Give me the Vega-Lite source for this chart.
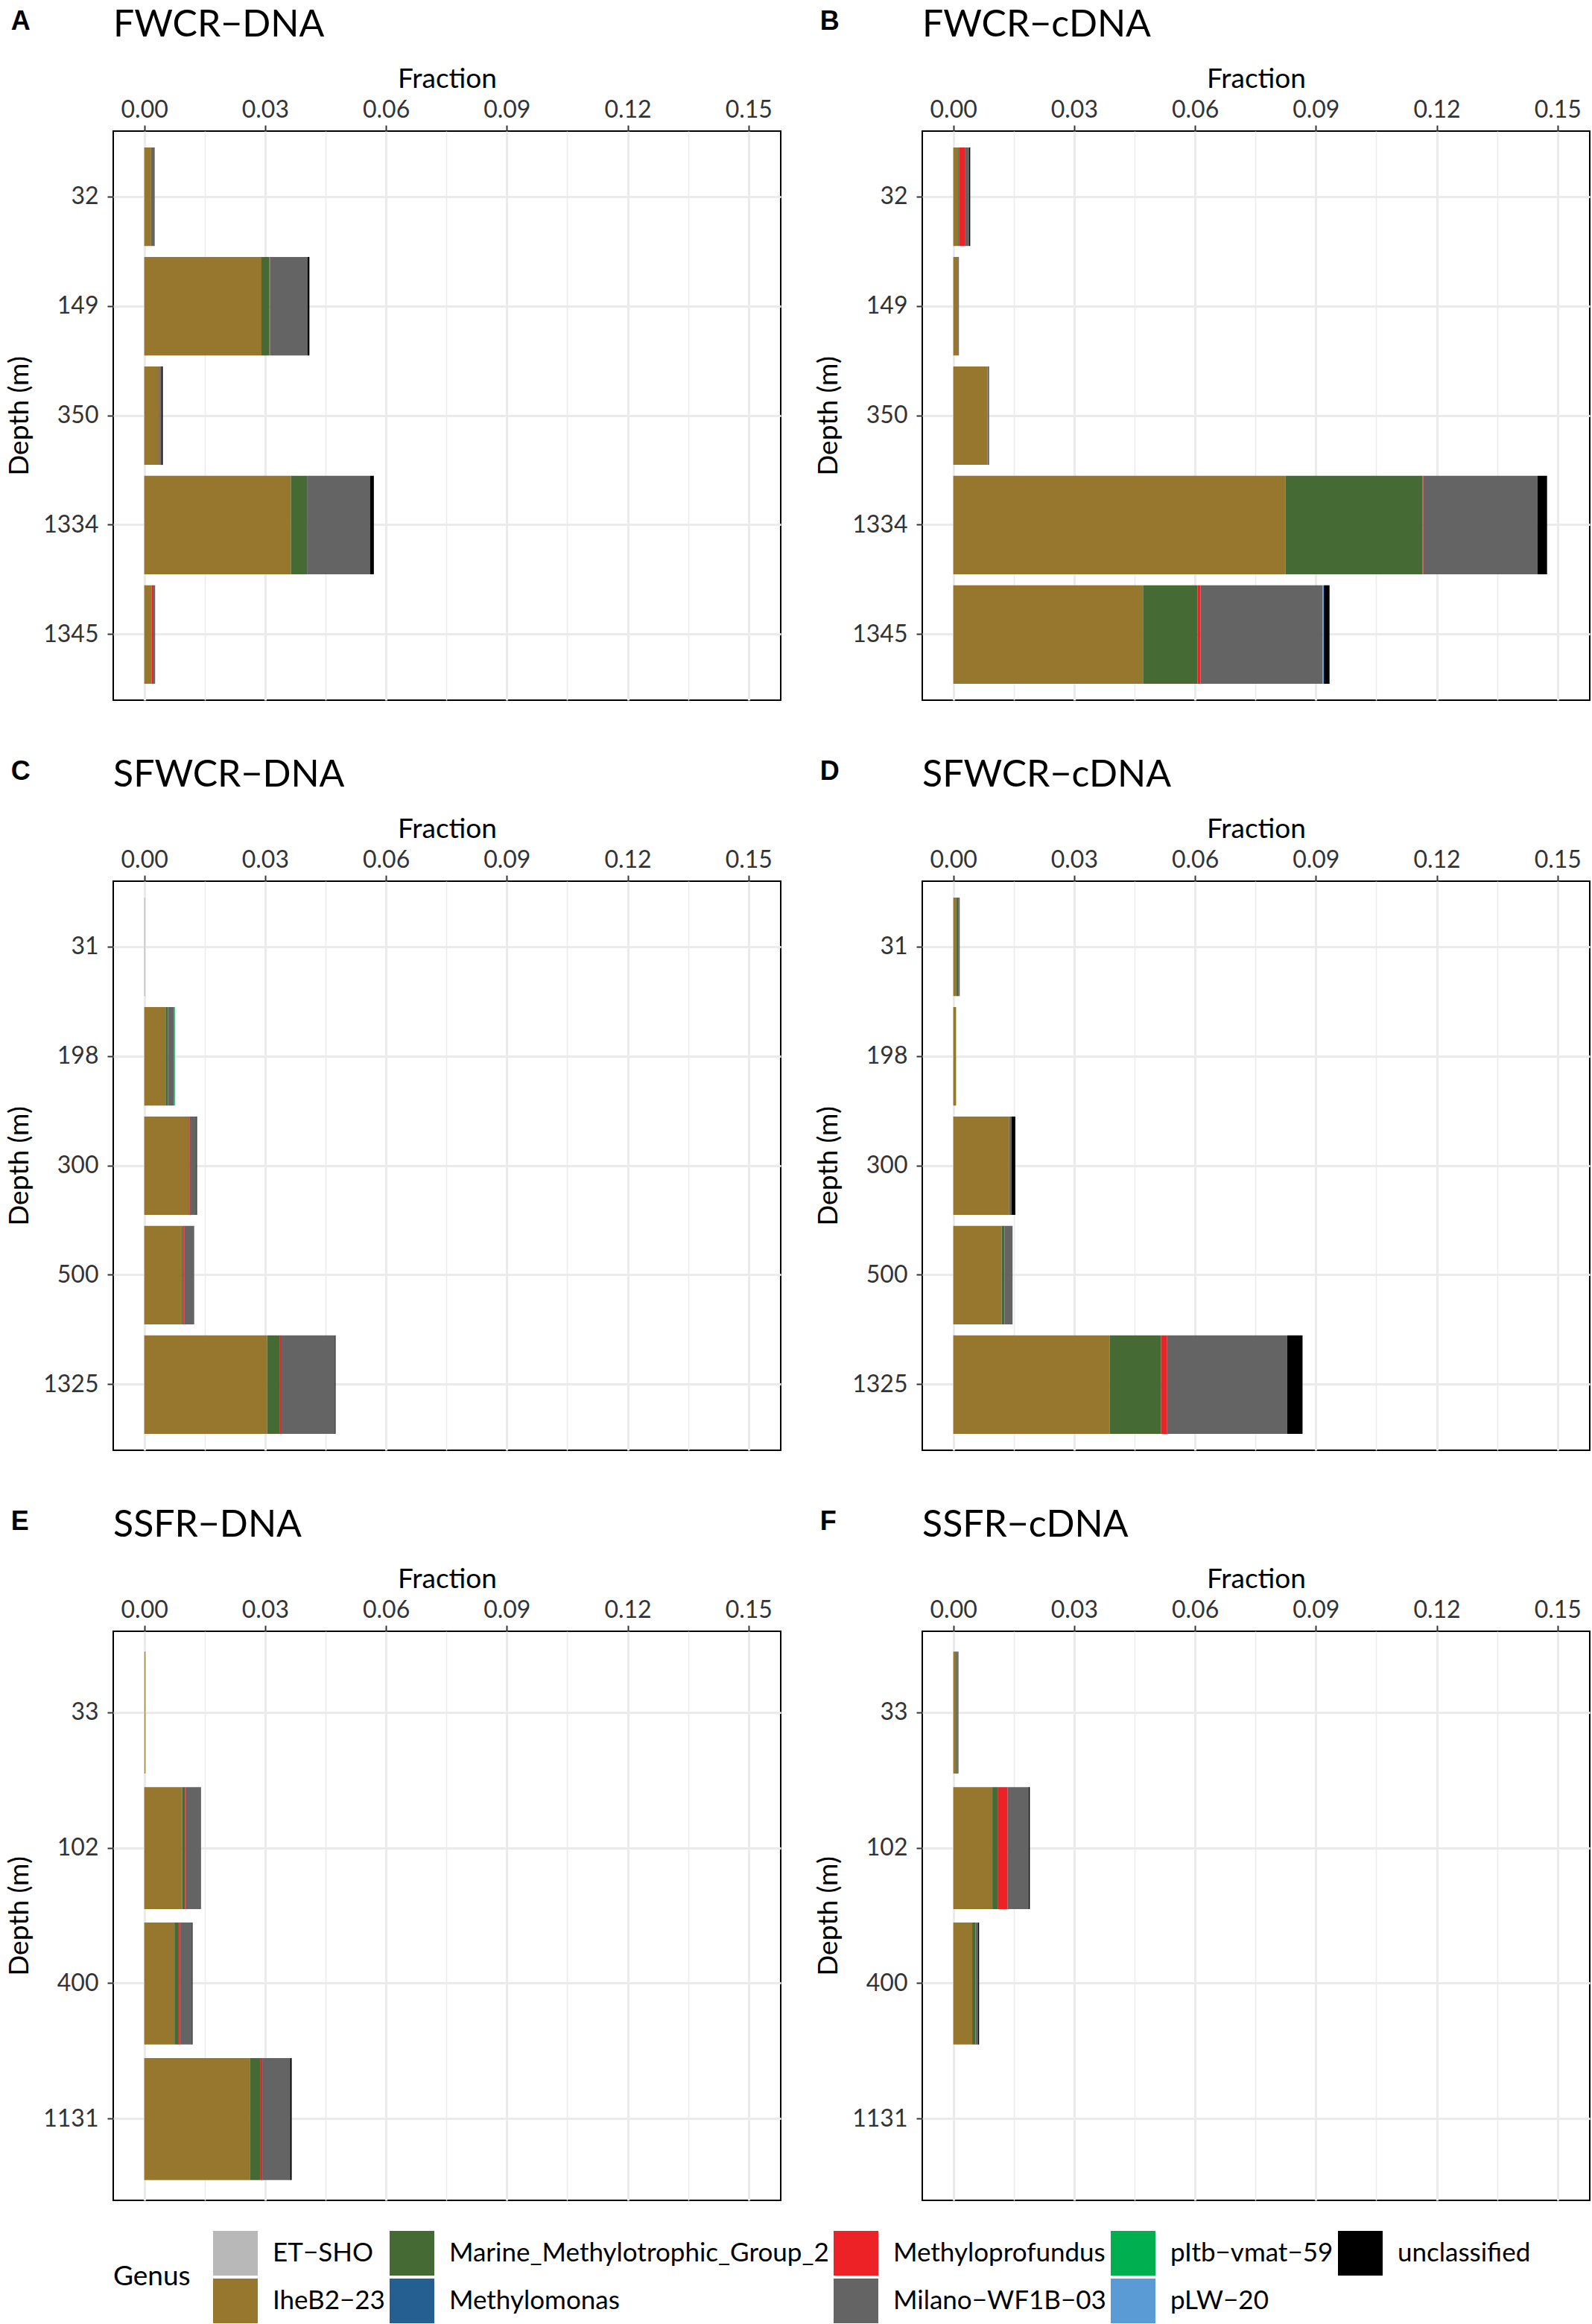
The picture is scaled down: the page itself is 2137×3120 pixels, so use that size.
{
  "$schema": "https://vega.github.io/schema/vega-lite/v6.json",
  "padding": {"left": 6, "top": 8, "right": 5, "bottom": 2},
  "background": "white",
  "datasets": {
    "d": [
      {"Panel": "FWCR−DNA", "Depth": 32, "Genus": "IheB2−23", "Fraction": 0.0017},
      {"Panel": "FWCR−DNA", "Depth": 32, "Genus": "Marine_Methylotrophic_Group_2", "Fraction": 0.0002},
      {"Panel": "FWCR−DNA", "Depth": 32, "Genus": "Milano−WF1B−03", "Fraction": 0.0007},
      {"Panel": "FWCR−DNA", "Depth": 149, "Genus": "IheB2−23", "Fraction": 0.0291},
      {"Panel": "FWCR−DNA", "Depth": 149, "Genus": "Marine_Methylotrophic_Group_2", "Fraction": 0.0019},
      {"Panel": "FWCR−DNA", "Depth": 149, "Genus": "Methyloprofundus", "Fraction": 0.0002},
      {"Panel": "FWCR−DNA", "Depth": 149, "Genus": "Milano−WF1B−03", "Fraction": 0.0093},
      {"Panel": "FWCR−DNA", "Depth": 149, "Genus": "unclassified", "Fraction": 0.0005},
      {"Panel": "FWCR−DNA", "Depth": 350, "Genus": "IheB2−23", "Fraction": 0.0036},
      {"Panel": "FWCR−DNA", "Depth": 350, "Genus": "Methyloprofundus", "Fraction": 0.0002},
      {"Panel": "FWCR−DNA", "Depth": 350, "Genus": "Milano−WF1B−03", "Fraction": 0.0005},
      {"Panel": "FWCR−DNA", "Depth": 350, "Genus": "unclassified", "Fraction": 0.0003},
      {"Panel": "FWCR−DNA", "Depth": 1334, "Genus": "IheB2−23", "Fraction": 0.0364},
      {"Panel": "FWCR−DNA", "Depth": 1334, "Genus": "Marine_Methylotrophic_Group_2", "Fraction": 0.0040},
      {"Panel": "FWCR−DNA", "Depth": 1334, "Genus": "Milano−WF1B−03", "Fraction": 0.0157},
      {"Panel": "FWCR−DNA", "Depth": 1334, "Genus": "unclassified", "Fraction": 0.0009},
      {"Panel": "FWCR−DNA", "Depth": 1345, "Genus": "IheB2−23", "Fraction": 0.0018},
      {"Panel": "FWCR−DNA", "Depth": 1345, "Genus": "Methyloprofundus", "Fraction": 0.0005},
      {"Panel": "FWCR−DNA", "Depth": 1345, "Genus": "Milano−WF1B−03", "Fraction": 0.0004},

      {"Panel": "FWCR−cDNA", "Depth": 32, "Genus": "IheB2−23", "Fraction": 0.0012},
      {"Panel": "FWCR−cDNA", "Depth": 32, "Genus": "Marine_Methylotrophic_Group_2", "Fraction": 0.0003},
      {"Panel": "FWCR−cDNA", "Depth": 32, "Genus": "Methyloprofundus", "Fraction": 0.0015},
      {"Panel": "FWCR−cDNA", "Depth": 32, "Genus": "Milano−WF1B−03", "Fraction": 0.0009},
      {"Panel": "FWCR−cDNA", "Depth": 32, "Genus": "unclassified", "Fraction": 0.0003},
      {"Panel": "FWCR−cDNA", "Depth": 149, "Genus": "IheB2−23", "Fraction": 0.0012},
      {"Panel": "FWCR−cDNA", "Depth": 149, "Genus": "Milano−WF1B−03", "Fraction": 0.0002},
      {"Panel": "FWCR−cDNA", "Depth": 350, "Genus": "IheB2−23", "Fraction": 0.0085},
      {"Panel": "FWCR−cDNA", "Depth": 350, "Genus": "Milano−WF1B−03", "Fraction": 0.0004},
      {"Panel": "FWCR−cDNA", "Depth": 1334, "Genus": "IheB2−23", "Fraction": 0.0825},
      {"Panel": "FWCR−cDNA", "Depth": 1334, "Genus": "Marine_Methylotrophic_Group_2", "Fraction": 0.0340},
      {"Panel": "FWCR−cDNA", "Depth": 1334, "Genus": "Methyloprofundus", "Fraction": 0.0002},
      {"Panel": "FWCR−cDNA", "Depth": 1334, "Genus": "Milano−WF1B−03", "Fraction": 0.0283},
      {"Panel": "FWCR−cDNA", "Depth": 1334, "Genus": "unclassified", "Fraction": 0.0024},
      {"Panel": "FWCR−cDNA", "Depth": 1345, "Genus": "IheB2−23", "Fraction": 0.0471},
      {"Panel": "FWCR−cDNA", "Depth": 1345, "Genus": "Marine_Methylotrophic_Group_2", "Fraction": 0.0135},
      {"Panel": "FWCR−cDNA", "Depth": 1345, "Genus": "Methyloprofundus", "Fraction": 0.0008},
      {"Panel": "FWCR−cDNA", "Depth": 1345, "Genus": "Milano−WF1B−03", "Fraction": 0.0303},
      {"Panel": "FWCR−cDNA", "Depth": 1345, "Genus": "pLW−20", "Fraction": 0.0003},
      {"Panel": "FWCR−cDNA", "Depth": 1345, "Genus": "unclassified", "Fraction": 0.0014},

      {"Panel": "SFWCR−DNA", "Depth": 31, "Genus": "ET−SHO", "Fraction": 0.0002},
      {"Panel": "SFWCR−DNA", "Depth": 198, "Genus": "IheB2−23", "Fraction": 0.0053},
      {"Panel": "SFWCR−DNA", "Depth": 198, "Genus": "Marine_Methylotrophic_Group_2", "Fraction": 0.0006},
      {"Panel": "SFWCR−DNA", "Depth": 198, "Genus": "pItb−vmat−59", "Fraction": 0.0002},
      {"Panel": "SFWCR−DNA", "Depth": 198, "Genus": "Milano−WF1B−03", "Fraction": 0.0015},
      {"Panel": "SFWCR−DNA", "Depth": 300, "Genus": "IheB2−23", "Fraction": 0.0110},
      {"Panel": "SFWCR−DNA", "Depth": 300, "Genus": "Methyloprofundus", "Fraction": 0.0003},
      {"Panel": "SFWCR−DNA", "Depth": 300, "Genus": "Milano−WF1B−03", "Fraction": 0.0016},
      {"Panel": "SFWCR−DNA", "Depth": 300, "Genus": "unclassified", "Fraction": 0.0002},
      {"Panel": "SFWCR−DNA", "Depth": 500, "Genus": "IheB2−23", "Fraction": 0.0092},
      {"Panel": "SFWCR−DNA", "Depth": 500, "Genus": "Marine_Methylotrophic_Group_2", "Fraction": 0.0004},
      {"Panel": "SFWCR−DNA", "Depth": 500, "Genus": "Methyloprofundus", "Fraction": 0.0003},
      {"Panel": "SFWCR−DNA", "Depth": 500, "Genus": "Milano−WF1B−03", "Fraction": 0.0025},
      {"Panel": "SFWCR−DNA", "Depth": 1325, "Genus": "IheB2−23", "Fraction": 0.0305},
      {"Panel": "SFWCR−DNA", "Depth": 1325, "Genus": "Marine_Methylotrophic_Group_2", "Fraction": 0.0032},
      {"Panel": "SFWCR−DNA", "Depth": 1325, "Genus": "Methyloprofundus", "Fraction": 0.0004},
      {"Panel": "SFWCR−DNA", "Depth": 1325, "Genus": "Milano−WF1B−03", "Fraction": 0.0132},
      {"Panel": "SFWCR−DNA", "Depth": 1325, "Genus": "unclassified", "Fraction": 0.0002},

      {"Panel": "SFWCR−cDNA", "Depth": 31, "Genus": "IheB2−23", "Fraction": 0.0007},
      {"Panel": "SFWCR−cDNA", "Depth": 31, "Genus": "Marine_Methylotrophic_Group_2", "Fraction": 0.0005},
      {"Panel": "SFWCR−cDNA", "Depth": 31, "Genus": "Milano−WF1B−03", "Fraction": 0.0004},
      {"Panel": "SFWCR−cDNA", "Depth": 198, "Genus": "IheB2−23", "Fraction": 0.0007},
      {"Panel": "SFWCR−cDNA", "Depth": 300, "Genus": "IheB2−23", "Fraction": 0.0139},
      {"Panel": "SFWCR−cDNA", "Depth": 300, "Genus": "Milano−WF1B−03", "Fraction": 0.0006},
      {"Panel": "SFWCR−cDNA", "Depth": 300, "Genus": "unclassified", "Fraction": 0.0009},
      {"Panel": "SFWCR−cDNA", "Depth": 500, "Genus": "IheB2−23", "Fraction": 0.0120},
      {"Panel": "SFWCR−cDNA", "Depth": 500, "Genus": "Marine_Methylotrophic_Group_2", "Fraction": 0.0007},
      {"Panel": "SFWCR−cDNA", "Depth": 500, "Genus": "Milano−WF1B−03", "Fraction": 0.0019},
      {"Panel": "SFWCR−cDNA", "Depth": 500, "Genus": "unclassified", "Fraction": 0.0001},
      {"Panel": "SFWCR−cDNA", "Depth": 1325, "Genus": "IheB2−23", "Fraction": 0.0388},
      {"Panel": "SFWCR−cDNA", "Depth": 1325, "Genus": "Marine_Methylotrophic_Group_2", "Fraction": 0.0128},
      {"Panel": "SFWCR−cDNA", "Depth": 1325, "Genus": "Methyloprofundus", "Fraction": 0.0015},
      {"Panel": "SFWCR−cDNA", "Depth": 1325, "Genus": "Milano−WF1B−03", "Fraction": 0.0298},
      {"Panel": "SFWCR−cDNA", "Depth": 1325, "Genus": "unclassified", "Fraction": 0.0038},

      {"Panel": "SSFR−DNA", "Depth": 33, "Genus": "ET−SHO", "Fraction": 0.0001},
      {"Panel": "SSFR−DNA", "Depth": 33, "Genus": "IheB2−23", "Fraction": 0.0002},
      {"Panel": "SSFR−DNA", "Depth": 102, "Genus": "IheB2−23", "Fraction": 0.0094},
      {"Panel": "SSFR−DNA", "Depth": 102, "Genus": "Marine_Methylotrophic_Group_2", "Fraction": 0.0007},
      {"Panel": "SSFR−DNA", "Depth": 102, "Genus": "Methyloprofundus", "Fraction": 0.0003},
      {"Panel": "SSFR−DNA", "Depth": 102, "Genus": "Milano−WF1B−03", "Fraction": 0.0037},
      {"Panel": "SSFR−DNA", "Depth": 400, "Genus": "IheB2−23", "Fraction": 0.0075},
      {"Panel": "SSFR−DNA", "Depth": 400, "Genus": "Marine_Methylotrophic_Group_2", "Fraction": 0.0009},
      {"Panel": "SSFR−DNA", "Depth": 400, "Genus": "Methyloprofundus", "Fraction": 0.0004},
      {"Panel": "SSFR−DNA", "Depth": 400, "Genus": "Milano−WF1B−03", "Fraction": 0.0030},
      {"Panel": "SSFR−DNA", "Depth": 400, "Genus": "unclassified", "Fraction": 0.0002},
      {"Panel": "SSFR−DNA", "Depth": 1131, "Genus": "IheB2−23", "Fraction": 0.0263},
      {"Panel": "SSFR−DNA", "Depth": 1131, "Genus": "Marine_Methylotrophic_Group_2", "Fraction": 0.0026},
      {"Panel": "SSFR−DNA", "Depth": 1131, "Genus": "Methyloprofundus", "Fraction": 0.0004},
      {"Panel": "SSFR−DNA", "Depth": 1131, "Genus": "Milano−WF1B−03", "Fraction": 0.0069},
      {"Panel": "SSFR−DNA", "Depth": 1131, "Genus": "unclassified", "Fraction": 0.0004},

      {"Panel": "SSFR−cDNA", "Depth": 33, "Genus": "IheB2−23", "Fraction": 0.0006},
      {"Panel": "SSFR−cDNA", "Depth": 33, "Genus": "Marine_Methylotrophic_Group_2", "Fraction": 0.0003},
      {"Panel": "SSFR−cDNA", "Depth": 33, "Genus": "Milano−WF1B−03", "Fraction": 0.0004},
      {"Panel": "SSFR−cDNA", "Depth": 102, "Genus": "IheB2−23", "Fraction": 0.0097},
      {"Panel": "SSFR−cDNA", "Depth": 102, "Genus": "Marine_Methylotrophic_Group_2", "Fraction": 0.0013},
      {"Panel": "SSFR−cDNA", "Depth": 102, "Genus": "Methyloprofundus", "Fraction": 0.0025},
      {"Panel": "SSFR−cDNA", "Depth": 102, "Genus": "Milano−WF1B−03", "Fraction": 0.0052},
      {"Panel": "SSFR−cDNA", "Depth": 102, "Genus": "unclassified", "Fraction": 0.0003},
      {"Panel": "SSFR−cDNA", "Depth": 400, "Genus": "IheB2−23", "Fraction": 0.0047},
      {"Panel": "SSFR−cDNA", "Depth": 400, "Genus": "Marine_Methylotrophic_Group_2", "Fraction": 0.0008},
      {"Panel": "SSFR−cDNA", "Depth": 400, "Genus": "Milano−WF1B−03", "Fraction": 0.0006},
      {"Panel": "SSFR−cDNA", "Depth": 400, "Genus": "unclassified", "Fraction": 0.0003},
      {"Panel": "SSFR−cDNA", "Depth": 1131, "Genus": "IheB2−23", "Fraction": 0}
    ]
  },
  "data": {"name": "d"},
  "spacing": 74,
  "vconcat": [
    {"hconcat": [
      {"title": {"text": "A", "anchor": "start", "frame": "bounds", "font": "Liberation Sans", "fontSize": 36, "fontWeight": "bold", "color": "black", "offset": 0, "dy": 40, "dx": 8},
       "vconcat": [{
        "width": 896, "height": 764,
        "title": {"text": "FWCR−DNA", "anchor": "start", "frame": "group", "font": "Lato", "fontSize": 50, "fontWeight": "normal", "color": "black", "offset": 28},
        "transform": [{"filter": "datum.Panel == 'FWCR−DNA'"}],
        "mark": {"type": "bar"},
        "encoding": {
          "y": {"field": "Depth", "type": "ordinal", "scale": {"paddingInner": 0.1, "paddingOuter": 0.15}, "axis": {"title": "Depth (m)"}},
          "x": {"field": "Fraction", "type": "quantitative", "stack": "zero", "scale": {"domain": [-0.0077, 0.158], "nice": false, "zero": false},
                "axis": {"orient": "top", "title": "Fraction", "values": [0, 0.015, 0.03, 0.045, 0.06, 0.075, 0.09, 0.105, 0.12, 0.135, 0.15], "labelOverlap": false, "labelExpr": "round(datum.value*1000) % 30 == 0 ? format(datum.value, '.2f') : ''", "gridWidth": {"condition": {"test": "round(datum.value*1000) % 30 == 0", "value": 3}, "value": 1.5}, "tickOpacity": {"condition": {"test": "round(datum.value*1000) % 30 == 0", "value": 1}, "value": 0}}},
          "color": {"field": "Genus", "type": "nominal", "title": "Genus",
                    "scale": {"domain": ["ET−SHO", "Marine_Methylotrophic_Group_2", "Methyloprofundus", "pItb−vmat−59", "unclassified", "IheB2−23", "Methylomonas", "Milano−WF1B−03", "pLW−20"],
                              "range": ["#b8b8b8", "#466a33", "#ec2227", "#00b050", "#000000", "#97762d", "#255f91", "#646464", "#5b9bd5"]}},
          "order": {"field": "Genus", "sort": "ascending"}
        }
      }]},
      {"title": {"text": "B", "anchor": "start", "frame": "bounds", "font": "Liberation Sans", "fontSize": 36, "fontWeight": "bold", "color": "black", "offset": 0, "dy": 40, "dx": 8},
       "vconcat": [{
        "width": 896, "height": 764,
        "title": {"text": "FWCR−cDNA", "anchor": "start", "frame": "group", "font": "Lato", "fontSize": 50, "fontWeight": "normal", "color": "black", "offset": 28},
        "transform": [{"filter": "datum.Panel == 'FWCR−cDNA'"}],
        "mark": {"type": "bar"},
        "encoding": {
          "y": {"field": "Depth", "type": "ordinal", "scale": {"paddingInner": 0.1, "paddingOuter": 0.15}, "axis": {"title": "Depth (m)"}},
          "x": {"field": "Fraction", "type": "quantitative", "stack": "zero", "scale": {"domain": [-0.0077, 0.158], "nice": false, "zero": false},
                "axis": {"orient": "top", "title": "Fraction", "values": [0, 0.015, 0.03, 0.045, 0.06, 0.075, 0.09, 0.105, 0.12, 0.135, 0.15], "labelOverlap": false, "labelExpr": "round(datum.value*1000) % 30 == 0 ? format(datum.value, '.2f') : ''", "gridWidth": {"condition": {"test": "round(datum.value*1000) % 30 == 0", "value": 3}, "value": 1.5}, "tickOpacity": {"condition": {"test": "round(datum.value*1000) % 30 == 0", "value": 1}, "value": 0}}},
          "color": {"field": "Genus", "type": "nominal", "title": "Genus"},
          "order": {"field": "Genus", "sort": "ascending"}
        }
      }]}
    ]},
    {"hconcat": [
      {"title": {"text": "C", "anchor": "start", "frame": "bounds", "font": "Liberation Sans", "fontSize": 36, "fontWeight": "bold", "color": "black", "offset": 0, "dy": 40, "dx": 8},
       "vconcat": [{
        "width": 896, "height": 764,
        "title": {"text": "SFWCR−DNA", "anchor": "start", "frame": "group", "font": "Lato", "fontSize": 50, "fontWeight": "normal", "color": "black", "offset": 28},
        "transform": [{"filter": "datum.Panel == 'SFWCR−DNA'"}],
        "mark": {"type": "bar"},
        "encoding": {
          "y": {"field": "Depth", "type": "ordinal", "scale": {"paddingInner": 0.1, "paddingOuter": 0.15}, "axis": {"title": "Depth (m)"}},
          "x": {"field": "Fraction", "type": "quantitative", "stack": "zero", "scale": {"domain": [-0.0077, 0.158], "nice": false, "zero": false},
                "axis": {"orient": "top", "title": "Fraction", "values": [0, 0.015, 0.03, 0.045, 0.06, 0.075, 0.09, 0.105, 0.12, 0.135, 0.15], "labelOverlap": false, "labelExpr": "round(datum.value*1000) % 30 == 0 ? format(datum.value, '.2f') : ''", "gridWidth": {"condition": {"test": "round(datum.value*1000) % 30 == 0", "value": 3}, "value": 1.5}, "tickOpacity": {"condition": {"test": "round(datum.value*1000) % 30 == 0", "value": 1}, "value": 0}}},
          "color": {"field": "Genus", "type": "nominal", "title": "Genus"},
          "order": {"field": "Genus", "sort": "ascending"}
        }
      }]},
      {"title": {"text": "D", "anchor": "start", "frame": "bounds", "font": "Liberation Sans", "fontSize": 36, "fontWeight": "bold", "color": "black", "offset": 0, "dy": 40, "dx": 8},
       "vconcat": [{
        "width": 896, "height": 764,
        "title": {"text": "SFWCR−cDNA", "anchor": "start", "frame": "group", "font": "Lato", "fontSize": 50, "fontWeight": "normal", "color": "black", "offset": 28},
        "transform": [{"filter": "datum.Panel == 'SFWCR−cDNA'"}],
        "mark": {"type": "bar"},
        "encoding": {
          "y": {"field": "Depth", "type": "ordinal", "scale": {"paddingInner": 0.1, "paddingOuter": 0.15}, "axis": {"title": "Depth (m)"}},
          "x": {"field": "Fraction", "type": "quantitative", "stack": "zero", "scale": {"domain": [-0.0077, 0.158], "nice": false, "zero": false},
                "axis": {"orient": "top", "title": "Fraction", "values": [0, 0.015, 0.03, 0.045, 0.06, 0.075, 0.09, 0.105, 0.12, 0.135, 0.15], "labelOverlap": false, "labelExpr": "round(datum.value*1000) % 30 == 0 ? format(datum.value, '.2f') : ''", "gridWidth": {"condition": {"test": "round(datum.value*1000) % 30 == 0", "value": 3}, "value": 1.5}, "tickOpacity": {"condition": {"test": "round(datum.value*1000) % 30 == 0", "value": 1}, "value": 0}}},
          "color": {"field": "Genus", "type": "nominal", "title": "Genus"},
          "order": {"field": "Genus", "sort": "ascending"}
        }
      }]}
    ]},
    {"hconcat": [
      {"title": {"text": "E", "anchor": "start", "frame": "bounds", "font": "Liberation Sans", "fontSize": 36, "fontWeight": "bold", "color": "black", "offset": 0, "dy": 40, "dx": 8},
       "vconcat": [{
        "width": 896, "height": 764,
        "title": {"text": "SSFR−DNA", "anchor": "start", "frame": "group", "font": "Lato", "fontSize": 50, "fontWeight": "normal", "color": "black", "offset": 28},
        "transform": [{"filter": "datum.Panel == 'SSFR−DNA'"}],
        "mark": {"type": "bar"},
        "encoding": {
          "y": {"field": "Depth", "type": "ordinal", "scale": {"paddingInner": 0.1, "paddingOuter": 0.15}, "axis": {"title": "Depth (m)"}},
          "x": {"field": "Fraction", "type": "quantitative", "stack": "zero", "scale": {"domain": [-0.0077, 0.158], "nice": false, "zero": false},
                "axis": {"orient": "top", "title": "Fraction", "values": [0, 0.015, 0.03, 0.045, 0.06, 0.075, 0.09, 0.105, 0.12, 0.135, 0.15], "labelOverlap": false, "labelExpr": "round(datum.value*1000) % 30 == 0 ? format(datum.value, '.2f') : ''", "gridWidth": {"condition": {"test": "round(datum.value*1000) % 30 == 0", "value": 3}, "value": 1.5}, "tickOpacity": {"condition": {"test": "round(datum.value*1000) % 30 == 0", "value": 1}, "value": 0}}},
          "color": {"field": "Genus", "type": "nominal", "title": "Genus"},
          "order": {"field": "Genus", "sort": "ascending"}
        }
      }]},
      {"title": {"text": "F", "anchor": "start", "frame": "bounds", "font": "Liberation Sans", "fontSize": 36, "fontWeight": "bold", "color": "black", "offset": 0, "dy": 40, "dx": 8},
       "vconcat": [{
        "width": 896, "height": 764,
        "title": {"text": "SSFR−cDNA", "anchor": "start", "frame": "group", "font": "Lato", "fontSize": 50, "fontWeight": "normal", "color": "black", "offset": 28},
        "transform": [{"filter": "datum.Panel == 'SSFR−cDNA'"}],
        "mark": {"type": "bar"},
        "encoding": {
          "y": {"field": "Depth", "type": "ordinal", "scale": {"paddingInner": 0.1, "paddingOuter": 0.15}, "axis": {"title": "Depth (m)"}},
          "x": {"field": "Fraction", "type": "quantitative", "stack": "zero", "scale": {"domain": [-0.0077, 0.158], "nice": false, "zero": false},
                "axis": {"orient": "top", "title": "Fraction", "values": [0, 0.015, 0.03, 0.045, 0.06, 0.075, 0.09, 0.105, 0.12, 0.135, 0.15], "labelOverlap": false, "labelExpr": "round(datum.value*1000) % 30 == 0 ? format(datum.value, '.2f') : ''", "gridWidth": {"condition": {"test": "round(datum.value*1000) % 30 == 0", "value": 3}, "value": 1.5}, "tickOpacity": {"condition": {"test": "round(datum.value*1000) % 30 == 0", "value": 1}, "value": 0}}},
          "color": {"field": "Genus", "type": "nominal", "title": "Genus"},
          "order": {"field": "Genus", "sort": "ascending"}
        }
      }]}
    ]}
  ],
  "config": {
    "font": "Lato",
    "view": {"stroke": "black", "strokeWidth": 2},
    "concat": {"spacing": 43},
    "axis": {"domain": false, "grid": true, "gridColor": "#ebebeb", "tickColor": "#333333", "tickWidth": 2, "tickSize": 8,
             "labelFont": "Lato", "labelFontSize": 32, "labelColor": "#333333",
             "titleFont": "Lato", "titleFontSize": 37, "titleFontWeight": "normal", "titleColor": "black"},
    "axisX": {"labelPadding": 4, "titlePadding": 6},
    "axisY": {"labelPadding": 12, "titlePadding": 12, "gridWidth": 3, "bandPosition": 0.5},
    "legend": {"orient": "bottom", "direction": "horizontal", "columns": 5, "titleOrient": "left",
               "titleFont": "Lato", "titleFontSize": 37, "titleFontWeight": "normal", "titleColor": "black",
               "titleAnchor": "middle", "titleBaseline": "middle", "titlePadding": 30,
               "labelFont": "Lato", "labelFontSize": 35, "labelColor": "black", "labelOffset": 20, "labelLimit": 0,
               "symbolType": "square", "symbolSize": 3600, "symbolStrokeWidth": 0, "symbolOpacity": 1,
               "rowPadding": 4, "columnPadding": 6, "offset": 40}
  }
}
